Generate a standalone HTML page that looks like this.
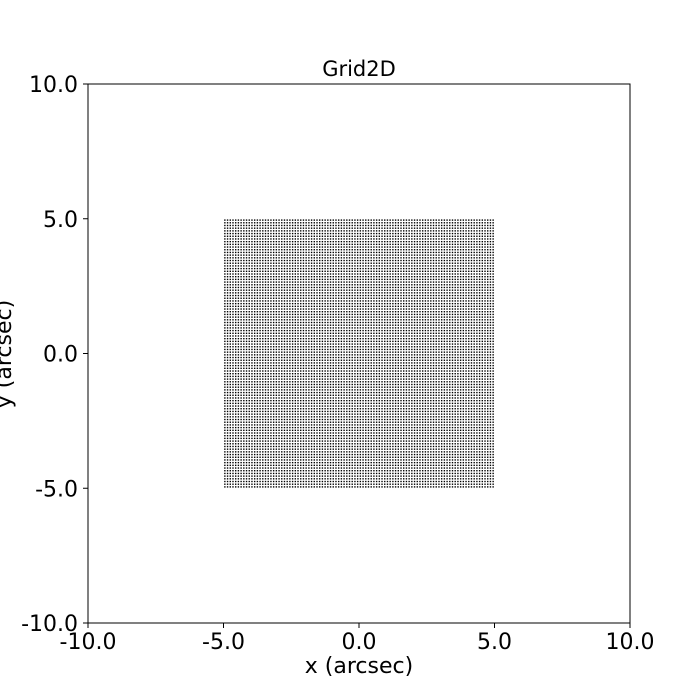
<!DOCTYPE html>
<html><head><meta charset="utf-8"><style>
body{margin:0;background:#fff}
svg{display:block;font-family:"DejaVu Sans","Liberation Sans",sans-serif}
</style></head><body>
<svg id="chart" width="700" height="700" viewBox="0 0 700 700">
<rect width="700" height="700" fill="#fff"/>
<text x="359" y="76" font-size="21" text-anchor="middle">Grid2D</text>
<g id="points" fill="#000"></g>
<rect x="88" y="84" width="542" height="539" fill="none" stroke="#000" stroke-width="1"/>
<g id="xticks"></g>
<g id="yticks"></g>
<text x="359" y="673" font-size="22" text-anchor="middle">x (arcsec)</text>
<text transform="translate(11,354) rotate(-90)" font-size="22" text-anchor="middle">y (arcsec)</text>
</svg>
<script>
const tickValues = [-10, -5, 0, 5, 10];
const tickLabels = ["-10.0", "-5.0", "0.0", "5.0", "10.0"];
const gridShape = [100, 100];
const pixelScales = [0.1, 0.1];
const gridOrigin = [0, 0];

const NS = "http://www.w3.org/2000/svg";
const X = v => 88 + (v + 10) / 20 * 542;
const Y = v => 623 - (v + 10) / 20 * 539;

const pg = document.getElementById('points');
const ny = gridShape[0], nx = gridShape[1];
for (let i = 0; i < ny; i++) {
  const yv = gridOrigin[0] + (ny / 2 - 0.5 - i) * pixelScales[0];
  for (let j = 0; j < nx; j++) {
    const xv = gridOrigin[1] + (j - nx / 2 + 0.5) * pixelScales[1];
    const r = document.createElementNS(NS, 'rect');
    r.setAttribute('x', (X(xv) - 0.7).toFixed(2));
    r.setAttribute('y', (Y(yv) - 0.7).toFixed(2));
    r.setAttribute('width', '1.4');
    r.setAttribute('height', '1.4');
    
    
    pg.appendChild(r);
  }
}

const xg = document.getElementById('xticks');
const yg = document.getElementById('yticks');
tickValues.forEach((v, k) => {
  const l = document.createElementNS(NS, 'line');
  l.setAttribute('x1', X(v)); l.setAttribute('x2', X(v));
  l.setAttribute('y1', 623); l.setAttribute('y2', 628);
  l.setAttribute('stroke', '#000');
  
  
  xg.appendChild(l);
  const t = document.createElementNS(NS, 'text');
  t.setAttribute('x', X(v)); t.setAttribute('y', 649);
  t.setAttribute('font-size', '22'); t.setAttribute('text-anchor', 'middle');
  t.textContent = tickLabels[k];
  
  
  xg.appendChild(t);

  const l2 = document.createElementNS(NS, 'line');
  l2.setAttribute('x1', 83); l2.setAttribute('x2', 88);
  l2.setAttribute('y1', Y(v)); l2.setAttribute('y2', Y(v));
  l2.setAttribute('stroke', '#000');
  
  
  yg.appendChild(l2);
  const t2 = document.createElementNS(NS, 'text');
  t2.setAttribute('x', 78); t2.setAttribute('y', Y(v) + 8);
  t2.setAttribute('font-size', '22'); t2.setAttribute('text-anchor', 'end');
  t2.textContent = tickLabels[k];
  
  
  yg.appendChild(t2);
});
</script>
</body></html>
